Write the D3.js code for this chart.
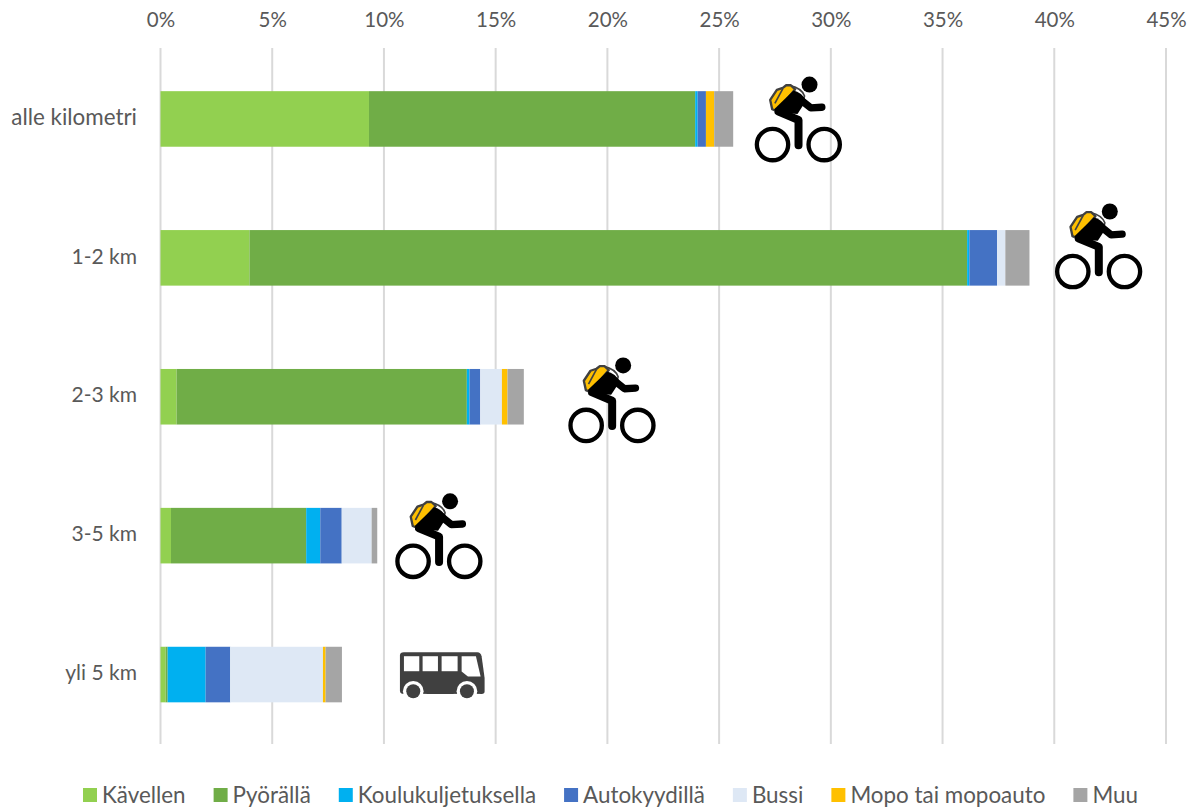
<!DOCTYPE html>
<html>
<head>
<meta charset="utf-8">
<script src="https://cdn.jsdelivr.net/npm/d3@7"></script>
<style>
    html, body { margin: 0; padding: 0; background: #fff; }
    svg { display: block; }
    text { font-family: Lato, "Open Sans", sans-serif; fill: #595959; }
</style>
</head>
<body>
<svg id="chart" width="1189" height="809"></svg>
<script>
// Share of trips to school (%)
const categories = ['alle kilometri', '1-2 km', '2-3 km', '3-5 km', 'yli 5 km'];
const modes = ['Kävellen', 'Pyörällä', 'Koulukuljetuksella', 'Autokyydillä', 'Bussi', 'Mopo tai mopoauto', 'Muu'];
const modeColors = ['#92d050', '#70ad47', '#00b0f0', '#4472c4', '#dee8f5', '#ffc000', '#a5a5a5'];

const kavellen = [9.33, 3.98, 0.72, 0.47, 0.23];
const pyoralla = [14.60, 32.12, 12.99, 6.05, 0.09];
const koulukuljetuksella = [0.11, 0.10, 0.12, 0.63, 1.70];
const autokyydilla = [0.37, 1.24, 0.48, 0.96, 1.10];
const bussi = [0.00, 0.37, 0.97, 1.34, 4.15];
const mopo = [0.37, 0.00, 0.25, 0.00, 0.12];
const muu = [0.85, 1.08, 0.73, 0.25, 0.73];

const tickValues = [0, 5, 10, 15, 20, 25, 30, 35, 40, 45];
const categoryIcons = ['bike', 'bike', 'bike', 'bike', 'bus'];

const seriesValues = [kavellen, pyoralla, koulukuljetuksella, autokyydilla, bussi, mopo, muu];
const rows = categories.map((c, i) => {
    const row = { category: c, icon: categoryIcons[i] };
    modes.forEach((m, j) => { row[m] = seriesValues[j][i]; });
    return row;
});

const svg = d3.select('#chart');

const x = d3.scaleLinear().domain([0, 45]).range([160.5, 1166]);
const y = d3.scaleBand().domain(categories).range([49.5, 744]).paddingInner(0.6).paddingOuter(0.3);
const color = d3.scaleOrdinal().domain(modes).range(modeColors);

// Gridlines first, bars go on top
svg.append('g')
    .selectAll('line')
    .data(tickValues)
    .join('line')
    .attr('x1', d => x(d)).attr('x2', d => x(d))
    .attr('y1', 48).attr('y2', 744)
    .attr('stroke', '#d9d9d9')
    .attr('stroke-width', 2);

// Top axis, no line or tick marks
const topAxis = d3.axisTop(x).tickValues(tickValues).tickFormat(d => d + '%').tickSize(0).tickPadding(0);
svg.append('g')
    .attr('transform', 'translate(0,27)')
    .call(topAxis)
    .call(g => g.select('.domain').remove())
    .selectAll('text')
    .style('font-size', '20.5px')
    .style('font-family', 'Lato, sans-serif');

// Category labels
const leftAxis = d3.axisLeft(y).tickSize(0).tickPadding(0);
svg.append('g')
    .attr('transform', 'translate(137,-1)')
    .call(leftAxis)
    .call(g => g.select('.domain').remove())
    .selectAll('text')
    .style('font-size', d => d === 'alle kilometri' ? '22.4px' : '21px')
    .style('font-family', 'Lato, sans-serif');

// Stacked bars
const stacked = d3.stack().keys(modes)(rows);
svg.append('g')
    .selectAll('g')
    .data(stacked)
    .join('g')
    .attr('fill', d => color(d.key))
    .selectAll('rect')
    .data(d => d)
    .join('rect')
    .attr('x', d => x(d[0]))
    .attr('y', d => y(d.data.category))
    .attr('width', d => x(d[1]) - x(d[0]))
    .attr('height', y.bandwidth());

// Icons, drawn in 3x units and placed relative to the end of each bar
function drawBike(g) {
    g.append('circle').attr('cx', 97).attr('cy', 224).attr('r', 47)
        .attr('fill', 'none').attr('stroke', '#000').attr('stroke-width', 13);
    g.append('circle').attr('cx', 252).attr('cy', 224).attr('r', 47)
        .attr('fill', 'none').attr('stroke', '#000').attr('stroke-width', 13);
    // strap behind the shoulder
    g.append('path')
        .attr('d', 'M150 47 Q185 55 193 78 Q190 100 172 112')
        .attr('fill', 'none').attr('stroke', '#404040').attr('stroke-width', 5);
    // backpack
    g.append('path')
        .attr('d', 'M90 90 L110 60 L128 54 L138 46 L152 46 L165 58 L110 124 L96 118 Z')
        .attr('fill', '#ffc000').attr('stroke', '#404040').attr('stroke-width', 7).attr('stroke-linejoin', 'round');
    g.append('path')
        .attr('d', 'M128 56 L104 100')
        .attr('stroke', '#404040').attr('stroke-width', 5).attr('fill', 'none');
    // torso
    g.append('path')
        .attr('d', 'M160 62 Q182 66 198 92 L172 132 L108 128 L102 118 Z')
        .attr('fill', '#000');
    g.append('circle').attr('cx', 208).attr('cy', 44).attr('r', 24).attr('fill', '#000');
    // arm
    g.append('path')
        .attr('d', 'M172 82 L212 114 L245 112')
        .attr('fill', 'none').attr('stroke', '#000').attr('stroke-width', 22)
        .attr('stroke-linecap', 'round').attr('stroke-linejoin', 'round');
    // leg
    g.append('path')
        .attr('d', 'M115 125 L175 150 L175 226')
        .attr('fill', 'none').attr('stroke', '#000').attr('stroke-width', 24)
        .attr('stroke-linecap', 'round').attr('stroke-linejoin', 'round');
}

function drawBus(g) {
    g.append('path')
        .attr('d', 'M30 48 Q30 38 42 38 L262 38 Q272 38 275 50 L284 115 L284 155 Q284 163 275 163 L40 163 Q30 163 30 153 Z')
        .attr('fill', '#404040');
    g.append('g').attr('fill', '#fff')
        .selectAll('rect')
        .data([[42, 46], [98, 46], [155, 48]])
        .join('rect')
        .attr('x', d => d[0]).attr('y', 50)
        .attr('width', d => d[1]).attr('height', 45);
    g.append('path').attr('d', 'M215 50 L258 50 L272 111 L234 111 L215 96 Z').attr('fill', '#fff');
    [70, 231].forEach(cx => {
        g.append('circle').attr('cx', cx).attr('cy', 155).attr('r', 31).attr('fill', '#fff');
        g.append('rect').attr('x', cx - 40).attr('y', 163).attr('width', 80).attr('height', 30).attr('fill', '#fff');
        g.append('circle').attr('cx', cx).attr('cy', 155).attr('r', 21).attr('fill', '#404040');
    });
}

// The icons sit by hand next to each bar in the original, so nudge them per row
const iconOffsetsX = [7, 11, 30, 3.5, 48];
const iconOffsetsY = [0, -12, 3, 0, 0];
rows.forEach((r, i) => {
    const total = d3.sum(modes, m => r[m]);
    const cy = y(r.category) + y.bandwidth() / 2;
    const g = svg.append('g').attr('class', 'icon');
    const top = r.icon === 'bike' ? cy - 49 + iconOffsetsY[i] : cy - 35;
    g.attr('transform', `translate(${x(total) + iconOffsetsX[i]},${top}) scale(${1 / 3})`);
    if (r.icon === 'bike') drawBike(g);
    else drawBus(g);
});

// Legend: measure each label, then lay the row out from the left
const legend = svg.append('g').attr('transform', 'translate(0,795)');
let legendX = 83;
modes.forEach(m => {
    const item = legend.append('g').attr('transform', `translate(${legendX},0)`);
    item.append('rect').attr('y', -7).attr('width', 14).attr('height', 14).attr('fill', color(m));
    const label = item.append('text').attr('x', 19).attr('dy', '0.35em')
        .style('font-size', '22.4px').text(m);
    legendX += 19 + label.node().getComputedTextLength() + 28;
});
</script>
</body>
</html>
